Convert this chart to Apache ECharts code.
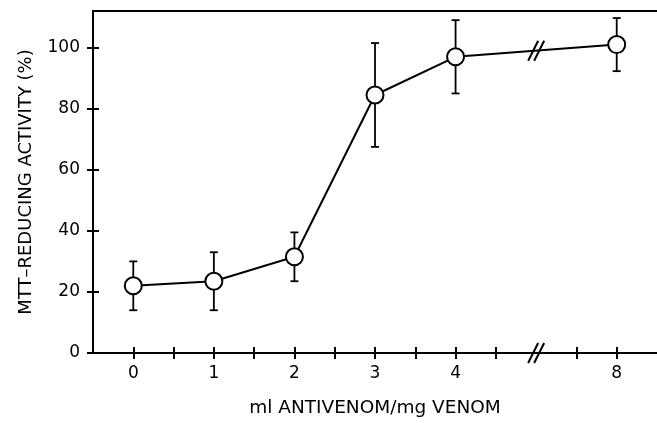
<!DOCTYPE html>
<html>
<head>
<meta charset="utf-8">
<script src="https://cdn.jsdelivr.net/npm/echarts@6/dist/echarts.min.js"></script>
<style>
  html, body { margin: 0; padding: 0; background: #fff; }
  #chart { width: 657px; height: 423px; }
</style>
</head>
<body>
<div id="chart"></div>
<script>
// Antivenom dose (ml per mg venom) and MTT-reducing activity (% of control)
const doses = [0, 1, 2, 3, 4, 8];
const activity = [22, 23.5, 31.5, 84.5, 97, 101];
const activityErr = [8, 9.5, 8, 17, 12, 8.7];

// Tick labels shown on the dose axis
const doseTickLabels = ['0', '1', '2', '3', '4', '8'];
const activityTicks = [0, 20, 40, 60, 80, 100];

// The axis is broken between 4 and 8: doses above 4 are shifted left by 2 units
const breakPos = 5;
const breakShift = 2;
const toAxisPos = d => (d > 4 ? d - breakShift : d);

const labelPositions = doses.map(toAxisPos);
const tickPositions = [];
for (let v = 0; v <= 6; v += 0.5) {
  if (v !== breakPos) tickPositions.push(v);
}

const points = doses.map((d, i) => [toAxisPos(d), activity[i]]);
const errData = doses.map((d, i) => [toAxisPos(d), activity[i] - activityErr[i], activity[i] + activityErr[i]]);

const ink = '#000';
const fontFamily = 'DejaVu Sans';
const chart = echarts.init(document.getElementById('chart'));

const xCommon = { type: 'value', min: -0.5, max: 6.5, splitLine: { show: false } };
const yCommon = { type: 'value', min: 0, max: 112, splitLine: { show: false } };

chart.setOption({
  animation: false,
  backgroundColor: '#fff',
  grid: { left: 93, top: 11, right: -10, bottom: 64, containLabel: false },
  xAxis: [
    Object.assign({}, xCommon, {
      position: 'bottom',
      axisLine: { show: true, onZero: false, lineStyle: { color: ink, width: 2 } },
      axisTick: { show: true, inside: false, length: 6, customValues: tickPositions, lineStyle: { color: ink, width: 2 } },
      axisLabel: {
        show: true, margin: 12, customValues: labelPositions,
        color: ink, fontFamily, fontSize: 17,
        formatter: v => doseTickLabels[labelPositions.indexOf(v)] || ''
      },
      name: 'ml ANTIVENOM/mg VENOM',
      nameLocation: 'middle',
      nameGap: 46,
      nameTextStyle: { color: ink, fontFamily, fontSize: 18.5 }
    }),
    Object.assign({}, xCommon, {
      position: 'bottom', offset: 0,
      axisLine: { show: false, onZero: false },
      axisTick: { show: true, inside: true, length: 6, customValues: tickPositions, lineStyle: { color: ink, width: 2 } },
      axisLabel: { show: false }
    }),
    Object.assign({}, xCommon, {
      position: 'top',
      axisLine: { show: true, onZero: false, lineStyle: { color: ink, width: 2 } },
      axisTick: { show: false },
      axisLabel: { show: false }
    })
  ],
  yAxis: [
    Object.assign({}, yCommon, {
      position: 'left',
      axisLine: { show: true, onZero: false, lineStyle: { color: ink, width: 2 } },
      axisTick: { show: true, inside: false, length: 6, customValues: activityTicks, lineStyle: { color: ink, width: 2 } },
      axisLabel: { show: true, margin: 13, customValues: activityTicks, color: ink, fontFamily, fontSize: 17 },
      name: 'MTT\u2013REDUCING ACTIVITY (%)',
      nameLocation: 'middle',
      nameGap: 58,
      nameRotate: 90,
      nameTextStyle: { color: ink, fontFamily, fontSize: 18 }
    }),
    Object.assign({}, yCommon, {
      position: 'left', offset: 0,
      axisLine: { show: false, onZero: false },
      axisTick: { show: true, inside: true, length: 6, customValues: activityTicks, lineStyle: { color: ink, width: 2 } },
      axisLabel: { show: false }
    })
  ],
  series: [
    {
      // vertical error bars with caps
      type: 'custom',
      xAxisIndex: 0, yAxisIndex: 0,
      z: 1,
      data: errData,
      renderItem: (params, api) => {
        const x = api.value(0);
        const lo = api.coord([x, api.value(1)]);
        const hi = api.coord([x, api.value(2)]);
        const cap = 4;
        const style = { stroke: ink, lineWidth: 1.8 };
        return {
          type: 'group',
          children: [
            { type: 'line', shape: { x1: lo[0], y1: lo[1], x2: hi[0], y2: hi[1] }, style },
            { type: 'line', shape: { x1: hi[0] - cap, y1: hi[1], x2: hi[0] + cap, y2: hi[1] }, style },
            { type: 'line', shape: { x1: lo[0] - cap, y1: lo[1], x2: lo[0] + cap, y2: lo[1] }, style }
          ]
        };
      }
    },
    {
      // mean values joined by a line, hollow circle markers
      type: 'line',
      xAxisIndex: 0, yAxisIndex: 0,
      z: 3,
      data: points,
      symbol: 'circle',
      symbolSize: 17,
      showSymbol: true,
      lineStyle: { color: ink, width: 2 },
      itemStyle: { color: '#fff', borderColor: ink, borderWidth: 2 }
    },
    {
      // "//" break marks on the axis and on the connecting line
      type: 'custom',
      xAxisIndex: 0, yAxisIndex: 0,
      z: 4,
      clip: false,
      data: [[breakPos]],
      renderItem: (params, api) => {
        const i4 = doses.indexOf(4), i8 = doses.indexOf(8);
        const p4 = api.coord(points[i4]);
        const p8 = api.coord(points[i8]);
        const bx = api.coord([breakPos, 0])[0];
        const t = (bx - p4[0]) / (p8[0] - p4[0]);
        const lineY = p4[1] + t * (p8[1] - p4[1]);
        const axisY = api.coord([breakPos, 0])[1];
        const style = { stroke: ink, lineWidth: 2 };
        const slash = (cx, cy, dx) => ({
          type: 'line',
          shape: { x1: cx + dx - 5, y1: cy + 10, x2: cx + dx + 5, y2: cy - 10 },
          style
        });
        return {
          type: 'group',
          children: [
            slash(bx, lineY, -3), slash(bx, lineY, 3),
            slash(bx, axisY, -3), slash(bx, axisY, 3)
          ]
        };
      }
    }
  ]
});
</script>
</body>
</html>
